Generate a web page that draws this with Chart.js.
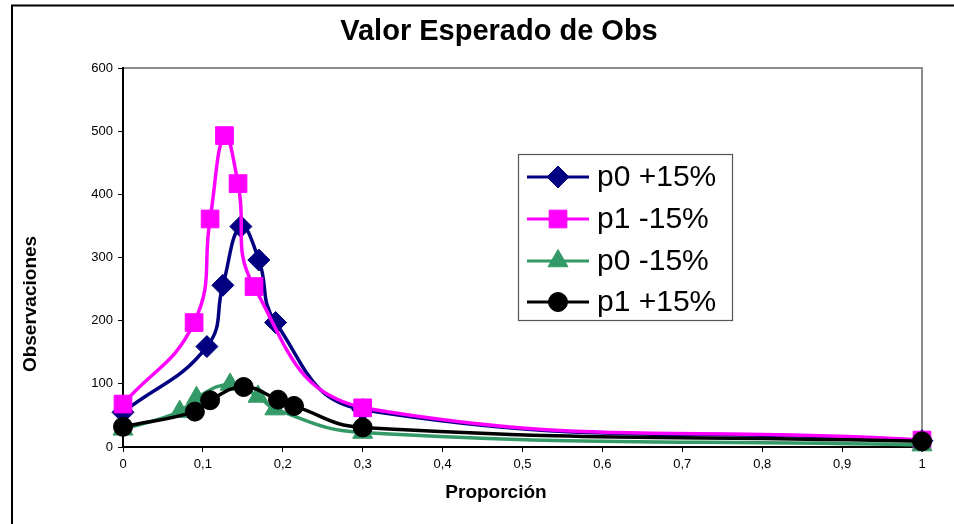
<!DOCTYPE html>
<html>
<head>
<meta charset="utf-8">
<title>Valor Esperado de Obs</title>
<script src="https://cdn.jsdelivr.net/npm/chart.js@4.4.1/dist/chart.umd.min.js"></script>
<style>
  html, body { margin: 0; padding: 0; background: #fff; }
  #wrap { width: 954px; height: 524px; position: relative; }
</style>
</head>
<body>
<div id="wrap"><canvas id="c"></canvas></div>
<script>
// Series names and values (x = proporción, y = observaciones)
const seriesNames = ['p0 +15%', 'p1 -15%', 'p0 -15%', 'p1 +15%'];

const p0PlusX  = [0, 0.105, 0.125, 0.1475, 0.17, 0.191, 0.3, 1];
const p0PlusY  = [55, 159, 256, 349, 296, 197, 59, 10];

const p1MinusX = [0, 0.089, 0.109, 0.127, 0.144, 0.164, 0.3, 1];
const p1MinusY = [68, 197, 361, 493, 417, 254, 62, 11];

const p0MinusX = [0, 0.071, 0.092, 0.134, 0.169, 0.19, 0.3, 1];
const p0MinusY = [28, 56, 78, 99, 80, 60, 23, 3];

const p1PlusX  = [0, 0.09, 0.109, 0.151, 0.194, 0.214, 0.3, 1];
const p1PlusY  = [32, 56, 74, 95, 75, 65, 31, 9];

const xTickLabels = ['0', '0,1', '0,2', '0,3', '0,4', '0,5', '0,6', '0,7', '0,8', '0,9', '1'];
const yTickLabels = ['0', '100', '200', '300', '400', '500', '600'];

const chartTitle = 'Valor Esperado de Obs';
const xTitle = 'Proporción';
const yTitle = 'Observaciones';

const FONT = 'Arial, "Liberation Sans", sans-serif';

function pairs(xs, ys) { return xs.map((x, i) => ({ x: x, y: ys[i] })); }

function series(label, xs, ys, color, style, radius, order) {
  return {
    label: label,
    data: pairs(xs, ys),
    borderColor: color,
    backgroundColor: color,
    borderWidth: 3.5,
    pointStyle: style,
    pointRadius: radius,
    pointBackgroundColor: color,
    pointBorderColor: color,
    pointBorderWidth: 1,
    showLine: true,
    tension: 0.45,
    clip: false,
    order: order
  };
}

const datasets = [
  series(seriesNames[0], p0PlusX,  p0PlusY,  '#000080', 'rectRot',  11,   3),
  series(seriesNames[1], p1MinusX, p1MinusY, '#FF00FF', 'rect',     12.5, 2),
  series(seriesNames[2], p0MinusX, p0MinusY, '#339966', 'triangle', 11.5, 1),
  series(seriesNames[3], p1PlusX,  p1PlusY,  '#000000', 'circle',   9.5,  0)
];

// White page, outer frame and the grey plot-area frame (axes paint over left/bottom)
const framePlugin = {
  id: 'frame',
  beforeDraw(chart) {
    const ctx = chart.ctx, a = chart.chartArea;
    ctx.save();
    ctx.fillStyle = '#fff';
    ctx.fillRect(0, 0, chart.width, chart.height);
    ctx.strokeStyle = '#000';
    ctx.lineWidth = 2;
    ctx.strokeRect(12, 5.5, chart.width + 20, chart.height + 20);
    ctx.strokeStyle = '#8c8c8c';
    ctx.lineWidth = 2;
    ctx.strokeRect(a.left, a.top, a.right - a.left, a.bottom - a.top);
    ctx.restore();
  }
};

// Axis titles
const axisTitlePlugin = {
  id: 'axisTitles',
  afterDraw(chart) {
    const ctx = chart.ctx;
    ctx.save();
    ctx.fillStyle = '#000';
    ctx.font = 'bold 19px ' + FONT;
    ctx.textAlign = 'center';
    ctx.textBaseline = 'middle';
    ctx.fillText(xTitle, 496, 493);
    ctx.translate(31, 304);
    ctx.rotate(-Math.PI / 2);
    ctx.fillText(yTitle, 0, 0);
    ctx.restore();
  }
};

// Boxed legend inside the plot area
const legendBoxPlugin = {
  id: 'legendBox',
  afterDraw(chart) {
    const ctx = chart.ctx;
    const box = { x: 518, y: 154, w: 214, h: 166 };
    const rowY = [177, 219, 261, 302];
    ctx.save();
    ctx.fillStyle = '#fff';
    ctx.fillRect(box.x, box.y, box.w, box.h);
    ctx.strokeStyle = '#555';
    ctx.lineWidth = 1.2;
    ctx.strokeRect(box.x + 0.5, box.y + 0.5, box.w, box.h);
    chart.data.datasets.forEach((ds, i) => {
      const y = rowY[i];
      ctx.strokeStyle = ds.borderColor;
      ctx.lineWidth = 3;
      ctx.beginPath();
      ctx.moveTo(527, y);
      ctx.lineTo(589, y);
      ctx.stroke();
      ctx.fillStyle = ds.pointBackgroundColor;
      ctx.strokeStyle = ds.pointBorderColor;
      ctx.lineWidth = 1;
      Chart.helpers.drawPoint(ctx, {
        pointStyle: ds.pointStyle,
        radius: ds.pointRadius,
        rotation: 0,
        borderWidth: 1
      }, 558, y);
      ctx.fillStyle = '#000';
      ctx.font = '30px ' + FONT;
      ctx.textAlign = 'left';
      ctx.textBaseline = 'middle';
      ctx.fillText(ds.label, 597, y + 1);
    });
    ctx.restore();
  }
};

new Chart(document.getElementById('c'), {
  type: 'scatter',
  data: { datasets: datasets },
  plugins: [framePlugin, axisTitlePlugin, legendBoxPlugin],
  options: {
    responsive: true,
    maintainAspectRatio: false,
    animation: false,
    events: [],
    layout: { padding: { left: 76, right: 32, top: 0, bottom: 0 } },
    plugins: {
      legend: { display: false },
      tooltip: { enabled: false },
      title: {
        display: true,
        text: chartTitle,
        color: '#000',
        font: { family: FONT, size: 29, weight: 'bold', lineHeight: 1.2 },
        padding: { top: 15, bottom: 18.2 }
      }
    },
    scales: {
      x: {
        type: 'linear',
        min: 0,
        max: 1,
        afterFit(scale) { scale.height = 77; },
        ticks: {
          stepSize: 0.1,
          color: '#000',
          padding: 5,
          maxRotation: 0,
          autoSkip: false,
          font: { family: FONT, size: 13 },
          callback: (v) => xTickLabels[Math.round(v * 10)]
        },
        grid: { drawOnChartArea: false, color: '#000', tickLength: 5, lineWidth: 1 },
        border: { color: '#000', width: 2 }
      },
      y: {
        type: 'linear',
        min: 0,
        max: 600,
        afterFit(scale) { scale.width = 47; },
        ticks: {
          stepSize: 100,
          color: '#000',
          padding: 5,
          font: { family: FONT, size: 13 },
          callback: (v) => yTickLabels[Math.round(v / 100)]
        },
        grid: { drawOnChartArea: false, color: '#000', tickLength: 5, lineWidth: 1 },
        border: { color: '#000', width: 2 }
      }
    }
  }
});
</script>
</body>
</html>
